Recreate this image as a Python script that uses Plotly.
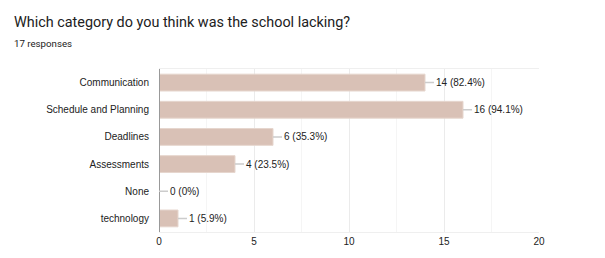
import plotly.graph_objects as go

categories = ["Communication", "Schedule and Planning", "Deadlines", "Assessments", "None", "technology"]
counts = [14, 16, 6, 4, 0, 1]
percents = ["82.4%", "94.1%", "35.3%", "23.5%", "0%", "5.9%"]
title_text = "Which category do you think was the school lacking?"
subtitle_text = "17 responses"
x_ticks = [0, 5, 10, 15, 20]

L, R, T, B, W, H = 159, 66, 69, 26, 605, 258
PW, PH = W - L - R, H - T - B

def px_x(px):
    return (px - L) / PW

def px_y(py):
    return (H - B - py) / PH

fig = go.Figure()
fig.add_trace(go.Bar(
    y=categories, x=counts, orientation="h",
    marker=dict(color="#d9c1b6", line=dict(color="#e6d6ce", width=1)),
    width=0.62, hoverinfo="skip",
))

for c, v, p in zip(categories, counts, percents):
    fig.add_annotation(
        x=v, y=c, xref="x", yref="y",
        text=f"{v} ({p})", showarrow=True, arrowhead=0, arrowwidth=1.5,
        arrowcolor="#cccccc", ax=9, ay=0, xanchor="left", yanchor="middle",
        font=dict(family="Arial, Liberation Sans, sans-serif", size=10, color="#222222"),
        standoff=0, startstandoff=0,
    )

fig.add_annotation(
    text=title_text, xref="paper", yref="paper", x=px_x(12), y=px_y(22),
    xanchor="left", yanchor="middle", showarrow=False,
    font=dict(family="Roboto, Arial, sans-serif", size=14.4, color="#212121"),
)
fig.add_annotation(
    text=subtitle_text, xref="paper", yref="paper", x=px_x(12), y=px_y(43),
    xanchor="left", yanchor="middle", showarrow=False,
    font=dict(family="Roboto, Arial, sans-serif", size=9.7, color="#212121"),
)

fig.update_layout(
    width=W, height=H,
    margin=dict(l=L, r=R, t=T, b=B),
    plot_bgcolor="white", paper_bgcolor="white",
    showlegend=False,
)
fig.update_xaxes(
    range=[0, 20], tickvals=x_ticks, ticktext=[str(t) for t in x_ticks],
    showgrid=True, gridcolor="#ebebeb", gridwidth=1,
    minor=dict(dtick=2.5, showgrid=True, gridcolor="#f5f5f5", gridwidth=1),
    zeroline=False, showline=True, mirror=True, linecolor="#efefef", linewidth=1,
    tickfont=dict(family="Arial, Liberation Sans, sans-serif", size=10, color="#222222"),
    ticks="", fixedrange=True,
)
fig.update_yaxes(
    autorange="reversed", showgrid=False, zeroline=False, showline=False,
    ticks="", ticklabelstandoff=9,
    tickfont=dict(family="Arial, Liberation Sans, sans-serif", size=10, color="#222222"),
    fixedrange=True,
)
fig.add_shape(type="line", xref="x", yref="paper", x0=0, x1=0, y0=0, y1=1,
              line=dict(color="#999999", width=2), layer="above")

fig.write_html("out.html", config=dict(displayModeBar=False))
